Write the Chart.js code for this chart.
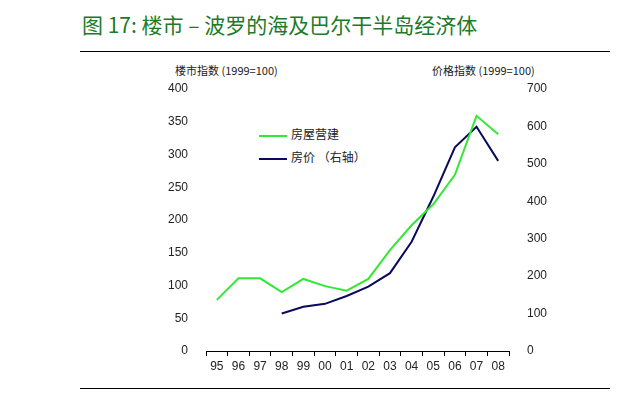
<!DOCTYPE html>
<html>
<head>
<meta charset="utf-8">
<script src="https://cdn.jsdelivr.net/npm/chart.js@4"></script>
<style>
    body { margin: 0; background: #fff; font-family: "Liberation Sans", Arial, sans-serif; }
    #wrap { position: relative; width: 640px; height: 400px; overflow: hidden; }
    #chart { position: absolute; left: 0; top: 0; }
    .title { position: absolute; left: 82px; top: 10px; font-family: "Noto Sans CJK SC", sans-serif; font-size: 21px; line-height: 28px; color: #1c7a28; white-space: nowrap; }
    .rule { position: absolute; left: 80px; width: 530px; height: 1px; background: #000; }
    .axtitle { position: absolute; top: 62px; font-family: "Noto Sans CJK SC", "Liberation Sans", sans-serif; font-size: 11px; color: #222; white-space: nowrap; }
    .leg { position: absolute; left: 259px; font-family: "Noto Sans CJK SC", sans-serif; font-size: 12px; color: #222; white-space: nowrap; }
    .leg span { display: inline-block; width: 28px; height: 2px; vertical-align: middle; margin-right: 4px; }
</style>
</head>
<body>
<div id="wrap">
    <div class="title">图 17: 楼市 – 波罗的海及巴尔干半岛经济体</div>
    <div class="rule" style="top:51px"></div>
    <div class="rule" style="top:388px"></div>
    <div class="axtitle" style="left:175px">楼市指数 (1999=100)</div>
    <div class="axtitle" style="left:432px">价格指数 (1999=100)</div>
    <div class="leg" style="top:125px"><span style="background:#33e833"></span>房屋营建</div>
    <div class="leg" style="top:148px"><span style="background:#0a0a5c"></span>房价 （右轴）</div>
    <canvas id="chart" width="640" height="400"></canvas>
</div>
<script>
// DATOS
const years = ['95', '96', '97', '98', '99', '00', '01', '02', '03', '04', '05', '06', '07', '08'];
const construction = [78, 111, 111, 90, 110, 99, 92, 110, 154, 192, 224, 269, 359, 331];
const prices = [null, null, null, 100, 118, 126, 147, 172, 208, 292, 412, 544, 599, 508];
const leftTicks = [0, 50, 100, 150, 200, 250, 300, 350, 400];
const rightTicks = [0, 100, 200, 300, 400, 500, 600, 700];

const tickFont = { family: '"Liberation Sans", Arial, sans-serif', size: 12 };

new Chart(document.getElementById('chart'), {
    type: 'line',
    data: {
        labels: years,
        datasets: [{
            label: '房屋营建',
            data: construction,
            borderColor: '#33e833',
            borderWidth: 2,
            pointRadius: 0,
            yAxisID: 'y',
            tension: 0
        }, {
            label: '房价 （右轴）',
            data: prices,
            borderColor: '#0a0a5c',
            borderWidth: 2,
            pointRadius: 0,
            yAxisID: 'y1',
            tension: 0
        }]
    },
    options: {
        responsive: false,
        animation: false,
        layout: { padding: { left: 150, right: 71, top: 89, bottom: 20 } },
        plugins: { legend: { display: false }, tooltip: { enabled: false } },
        scales: {
            x: {
                offset: true,
                grid: { offset: true, drawOnChartArea: false, tickLength: 5, color: '#000' },
                border: { color: '#000', width: 1 },
                ticks: { color: '#222', font: tickFont, padding: 3, maxRotation: 0 },
                afterFit: s => { s.height = 29; }
            },
            y: {
                position: 'left',
                min: 0, max: 400,
                afterBuildTicks: s => { s.ticks = leftTicks.map(v => ({ value: v })); },
                grid: { display: false },
                border: { display: false },
                ticks: { color: '#222', font: tickFont, padding: 10 },
                afterFit: s => { s.width = 56; }
            },
            y1: {
                position: 'right',
                min: 0, max: 700,
                afterBuildTicks: s => { s.ticks = rightTicks.map(v => ({ value: v })); },
                grid: { display: false },
                border: { display: false },
                ticks: { color: '#222', font: tickFont, padding: 10 },
                afterFit: s => { s.width = 60; }
            }
        }
    }
});
</script>
</body>
</html>
